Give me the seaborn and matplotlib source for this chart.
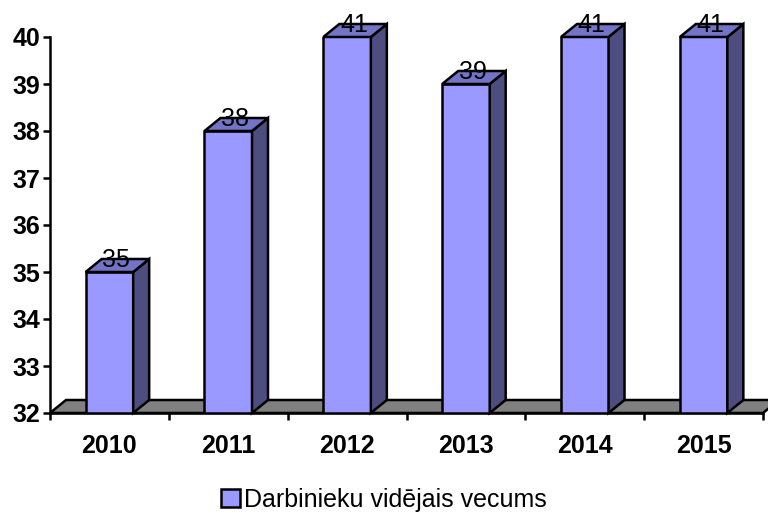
import numpy as np
import pandas as pd
import seaborn as sns
import matplotlib.pyplot as plt
from matplotlib.patches import Polygon, Patch

years = ["2010", "2011", "2012", "2013", "2014", "2015"]
ages = [35, 38, 41, 39, 41, 41]
series_name = "Darbinieku vidējais vecums"

front_col = "#9999FF"
side_col = "#4D4D80"
top_col = "#7373C8"
floor_col = "#808080"
ymin, ymax = 32, 40
dx, dy = 16, 13  # depth in pixels

sns.set_style("white")
plt.rcParams["font.family"] = ["Liberation Sans", "DejaVu Sans"]
plt.rcParams["text.color"] = "black"
plt.rcParams["xtick.color"] = "black"
plt.rcParams["ytick.color"] = "black"

df = pd.DataFrame({"year": years, "age": ages})

fig = plt.figure(figsize=(7.68, 5.17), dpi=100)
ax = fig.add_axes([50 / 768, 104 / 517, 713 / 768, 376 / 517])

sns.barplot(data=df, x="year", y="age", color=front_col, saturation=1,
            width=0.4, edgecolor="black", linewidth=1.8, ax=ax, zorder=3)
ax.set_ylim(ymin, ymax)
ax.set_xlim(-0.5, len(years) - 0.5)
ax.set_xlabel("")
ax.set_ylabel("")
ax.set_yticks(range(ymin, ymax + 1))

for s in ["top", "right"]:
    ax.spines[s].set_visible(False)
for s in ["left", "bottom"]:
    ax.spines[s].set_color("black")
    ax.spines[s].set_linewidth(1.8)
    ax.spines[s].set_zorder(5)

ax.tick_params(axis="y", length=5, width=1.8, color="black", labelcolor="black",
               direction="out", labelsize=18, pad=2, left=True)
ax.tick_params(axis="x", which="major", length=0, labelsize=18, pad=15,
               labelcolor="black")
ax.set_xticks(np.arange(-0.5, len(years), 1.0), minor=True)
ax.tick_params(axis="x", which="minor", length=5, width=1.8, color="black",
               direction="out", bottom=True)
for lab in ax.get_xticklabels() + ax.get_yticklabels():
    lab.set_fontweight("bold")

fig.canvas.draw()
T = ax.transData.transform

# floor
x0, yb = T((-0.5, ymin))
x1, _ = T((len(years) - 0.5, ymin))
floor = Polygon([(x0, yb), (x1, yb), (x1 + dx, yb + dy), (x0 + dx, yb + dy)],
                closed=True, facecolor=floor_col, edgecolor="black", lw=1.8,
                transform=None, zorder=1, clip_on=False)
ax.add_patch(floor)

for bar, v in zip(ax.patches, ages):
    if isinstance(bar, Polygon):
        continue
    top = min(v, ymax)
    bx = bar.get_x()
    bw = bar.get_width()
    lx, by = T((bx, ymin))
    rx, ty = T((bx + bw, top))
    side = Polygon([(rx, by), (rx + dx, by + dy), (rx + dx, ty + dy), (rx, ty)],
                   closed=True, facecolor=side_col, edgecolor="black", lw=1.8,
                   transform=None, zorder=3, clip_on=False)
    lid = Polygon([(lx, ty), (rx, ty), (rx + dx, ty + dy), (lx + dx, ty + dy)],
                  closed=True, facecolor=top_col, edgecolor="black", lw=1.8,
                  transform=None, zorder=3, clip_on=False)
    ax.add_patch(side)
    ax.add_patch(lid)
    ax.annotate(str(v), xy=(bx + bw / 2, top), xytext=(7, 12),
                textcoords="offset pixels", ha="center", va="center",
                fontsize=18, color="black", zorder=6, annotation_clip=False)

handle = Patch(facecolor=front_col, edgecolor="black", linewidth=1.8)
fig.legend([handle], [series_name], loc="lower center",
           bbox_to_anchor=(0.5, -0.033), frameon=False, fontsize=18,
           handlelength=0.75, handleheight=0.75, handletextpad=0.2)

fig.savefig("out.png", dpi=100)
